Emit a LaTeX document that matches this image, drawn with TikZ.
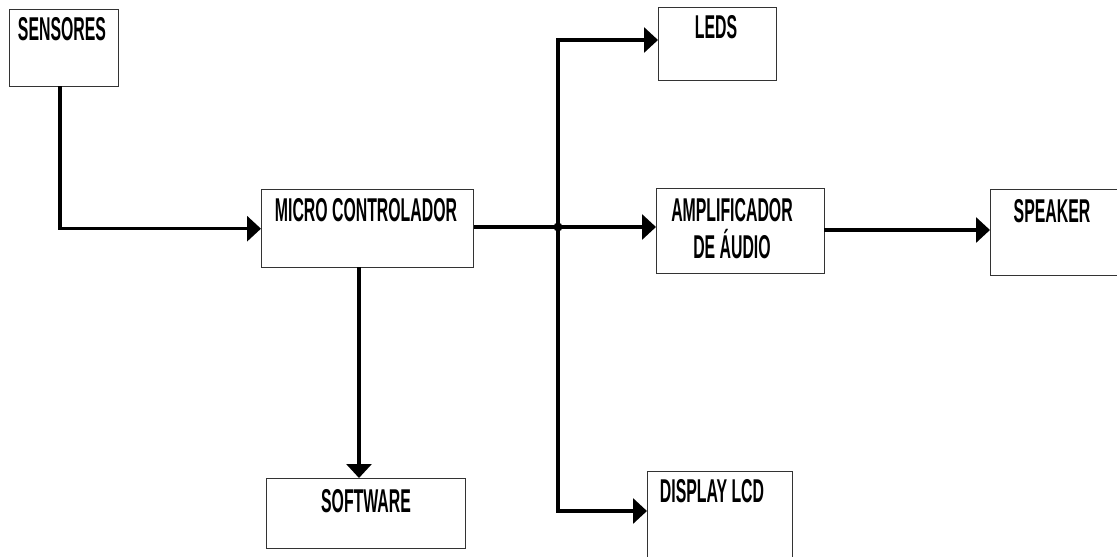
\documentclass[tikz,border=0pt]{standalone}
\usepackage{fontspec}
\setmainfont[FakeStretch=0.48]{Liberation Sans Bold}
\usetikzlibrary{arrows.meta}
\begin{document}
\begin{tikzpicture}[x=1pt,y=-1pt,
  blk/.style={draw=black!80,line width=1.4pt,rectangle,inner sep=0pt,anchor=north west},
  lbl/.style={anchor=base,inner sep=0pt,font=\fontsize{33}{37}\selectfont,align=center},
  conn/.style={line width=3.2pt,-{Triangle[length=14pt,width=25pt]}},
  wire/.style={line width=3.2pt}]
\useasboundingbox (0,0) rectangle (1117,557);
\clip (0,0) rectangle (1117,557);
% boxes
\node[blk,minimum width=109pt,minimum height=77pt] (sens) at (9,9) {};
\node[blk,minimum width=212pt,minimum height=78pt] (micro) at (261,189) {};
\node[blk,minimum width=118pt,minimum height=73pt] (leds) at (658,7) {};
\node[blk,minimum width=168pt,minimum height=85pt] (amp) at (656,188) {};
\node[blk,minimum width=130pt,minimum height=86pt] (spk) at (990,189) {};
\node[blk,minimum width=199pt,minimum height=70pt] (soft) at (266,478) {};
\node[blk,minimum width=145pt,minimum height=92pt] (lcd) at (647,471) {};
% labels
\node[lbl] (tsens) at (62,40) {SENSORES};
\node[lbl] (tmicro) at (366,221) {MICRO CONTROLADOR};
\node[lbl] (tleds) at (716,38) {LEDS};
\node[lbl] (tamp) at (732,258) {AMPLIFICADOR\\DE ÁUDIO};
\node[lbl] (tspk) at (1052,222) {SPEAKER};
\node[lbl] (tsoft) at (366,512) {SOFTWARE};
\node[lbl] (tlcd) at (712,502) {DISPLAY LCD};
% junction points
\coordinate (j) at (558,227);
\coordinate (jt) at (558,40);
\coordinate (jb) at (558,511);
\coordinate (ms) at (359,267);
\coordinate (ss) at (60,86);
\coordinate (ae) at (824,230);
% connectors
\draw[conn] (ss) |- (micro.west);
\draw[wire] (micro.east |- j) -- (j);
\draw[conn] (j) -- (amp.west |- j);
\draw[conn] (j) -- (jt) -- (leds.west |- jt);
\draw[conn] (j) -- (jb) -- (lcd.west |- jb);
\draw[conn] (ms) -- (ms |- soft.north);
\draw[conn] (ae) -- (spk.west |- ae);
\fill (j) circle (4.5pt);
\end{tikzpicture}
\end{document}
